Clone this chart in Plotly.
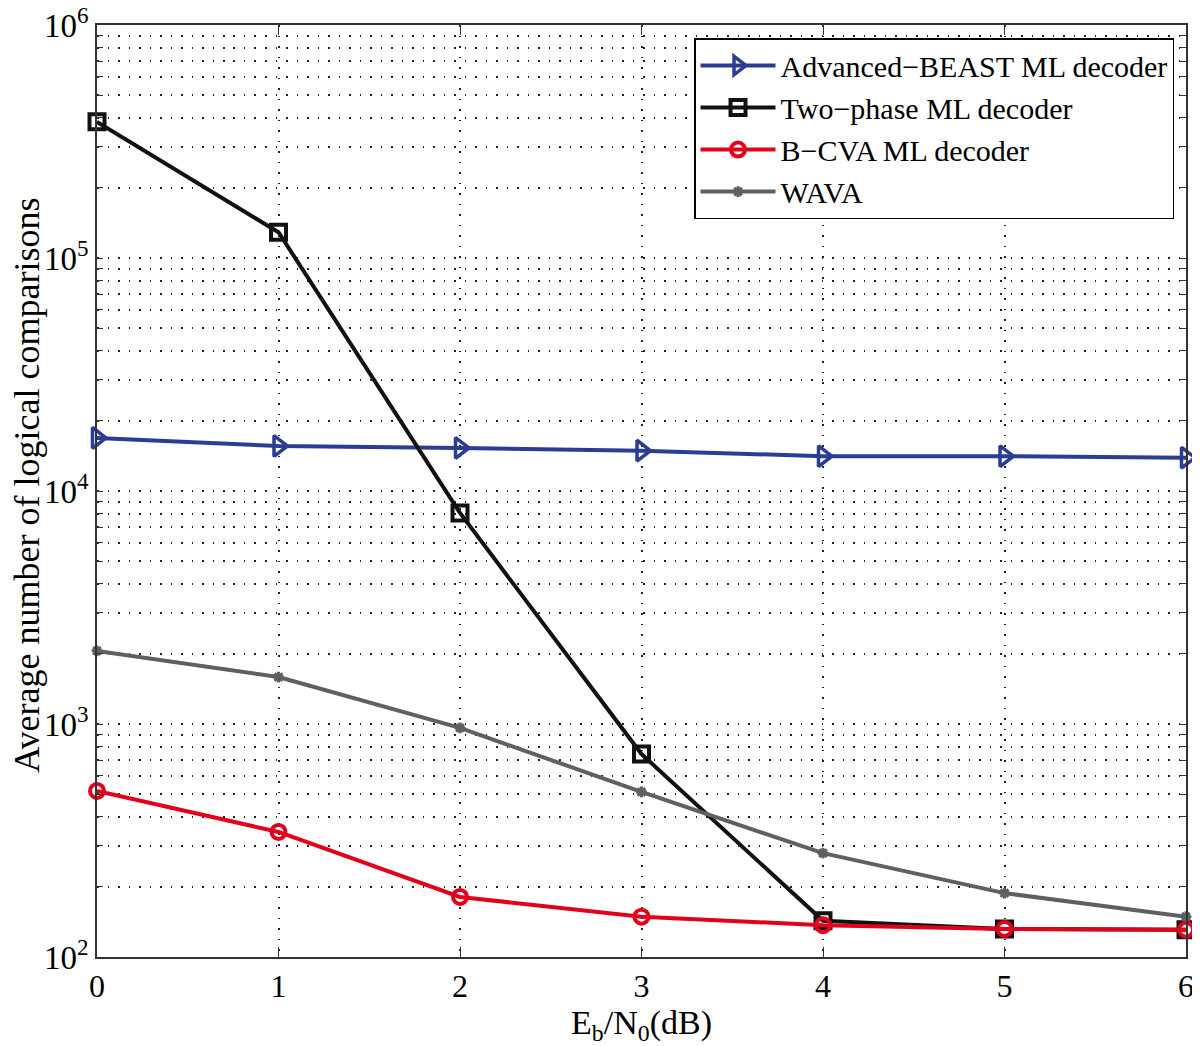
import plotly.graph_objects as go

snr = [0, 1, 2, 3, 4, 5, 6]
beast = [16900, 15600, 15300, 14900, 14100, 14100, 13900]
two_phase = [384000, 129000, 8050, 743, 143, 132, 131]
bcva = [516, 344, 181, 149, 137, 132, 131]
wava = [2060, 1590, 962, 511, 279, 188, 149]

x_ticks = [0, 1, 2, 3, 4, 5, 6]
y_title = "Average number of logical comparisons"
x_title = "E<sub>b</sub>/N<sub>0</sub>(dB)"

font_family = "Liberation Serif, Times New Roman, serif"

fig = go.Figure()

fig.add_trace(go.Scatter(
    x=snr, y=beast, name="Advanced\u2212BEAST ML decoder", mode="lines+markers",
    line=dict(color="#2a3c96", width=4),
    marker=dict(symbol="triangle-right-open", size=18, color="#2a3c96", line=dict(width=3.5, color="#2a3c96")),
    cliponaxis=False,
))
fig.add_trace(go.Scatter(
    x=snr, y=two_phase, name="Two\u2212phase ML decoder", mode="lines+markers",
    line=dict(color="#111111", width=4),
    marker=dict(symbol="square-open", size=15, color="#111111", line=dict(width=4, color="#111111")),
    cliponaxis=False,
))
fig.add_trace(go.Scatter(
    x=snr, y=bcva, name="B\u2212CVA ML decoder", mode="lines+markers",
    line=dict(color="#e3001b", width=4),
    marker=dict(symbol="circle-open", size=14, color="#e3001b", line=dict(width=4, color="#e3001b")),
    cliponaxis=False,
))
fig.add_trace(go.Scatter(
    x=snr, y=wava, name="WAVA", mode="lines+markers",
    line=dict(color="#606060", width=4),
    marker=dict(symbol="asterisk-open", size=9, color="#606060", line=dict(width=3, color="#606060")),
    cliponaxis=False,
))

# y tick values: all minor positions, labels only at decades
yvals, ytext = [], []
for d in range(2, 6):
    for m in range(1, 10):
        yvals.append(m * 10 ** d)
        ytext.append(f"10<sup>{d}</sup>" if m == 1 else "")
yvals.append(10 ** 6)
ytext.append("10<sup>6</sup>")

# page has an 8px body margin, so the figure is sized 8px smaller
fig.update_layout(
    width=1192, height=1038,
    margin=dict(l=89, r=14, t=17, b=89),
    paper_bgcolor="white", plot_bgcolor="white",
    font=dict(family=font_family, size=30, color="black"),
    showlegend=True,
    legend=dict(
        x=0.989, y=0.986, xanchor="right", yanchor="top",
        bgcolor="white", bordercolor="black", borderwidth=1.5,
        font=dict(family=font_family, size=30, color="black"),
        tracegroupgap=0, itemwidth=75,
    ),
    annotations=[dict(
        text=y_title, textangle=-90, xref="paper", yref="paper",
        x=-0.064, y=0.506, xanchor="center", yanchor="middle", showarrow=False,
        font=dict(family=font_family, size=36, color="black"),
    )],
)

grid_dash = "1.5px,9px"

fig.update_xaxes(
    range=[0, 6], tickvals=x_ticks, ticktext=[str(v) for v in x_ticks],
    showgrid=True, gridcolor="#222222", griddash=grid_dash, gridwidth=1.5,
    showline=True, linecolor="#333333", linewidth=1.5, mirror="ticks",
    ticks="inside", ticklen=10, tickcolor="#333333", zeroline=False,
    tickfont=dict(size=32), automargin=False, ticklabeloverflow="allow",
    title=dict(text=x_title, font=dict(size=34), standoff=0),
)
fig.update_yaxes(
    type="log", range=[2, 6], tickvals=yvals, ticktext=ytext,
    showgrid=True, gridcolor="#222222", griddash=grid_dash, gridwidth=1.5,
    showline=True, linecolor="#333333", linewidth=1.5, mirror="ticks",
    ticks="inside", ticklen=6, tickcolor="#333333", zeroline=False,
    tickfont=dict(size=33), automargin=False, ticklabeloverflow="allow",
)

fig.write_html("out.html")
